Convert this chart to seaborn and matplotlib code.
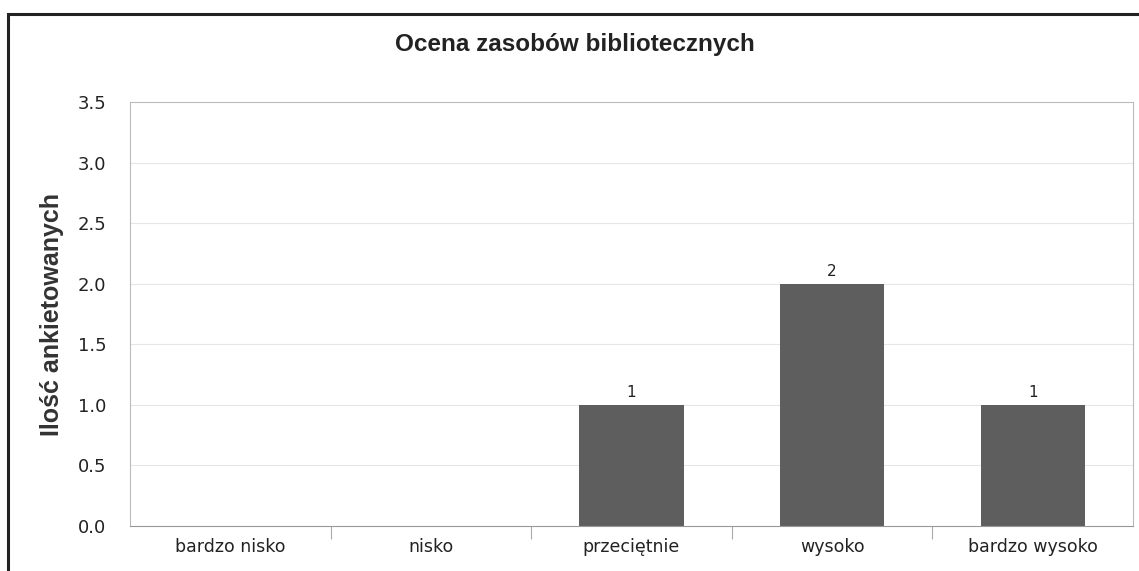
import matplotlib
matplotlib.use("Agg")
import matplotlib.pyplot as plt
import matplotlib.patches as mpatches
import seaborn as sns
import pandas as pd

categories = ["bardzo nisko", "nisko", "przeciętnie", "wysoko", "bardzo wysoko"]
values = [0, 0, 1, 2, 1]
labels = ["", "", "1", "2", "1"]
yticks = [0.0, 0.5, 1.0, 1.5, 2.0, 2.5, 3.0, 3.5]

sns.set_theme(style="white")
plt.rcParams['font.family'] = ['DejaVu Sans']

df = pd.DataFrame({"cat": categories, "val": values})

fig = plt.figure(figsize=(11.39, 5.71), dpi=100)
ax = fig.add_axes([130/1139, 1-526/571, (1133-130)/1139, (526-102)/571])

sns.barplot(data=df, x="cat", y="val", color="#5e5e5e", width=0.52,
            saturation=1, ax=ax, order=categories, linewidth=0)

ax.set_ylim(0, 3.5)
ax.set_xlim(-0.5, 4.5)
ax.set_yticks(yticks)
ax.set_yticklabels([f"{t:.1f}" for t in yticks], fontsize=13, color="#222222")
ax.set_xticklabels(categories, fontsize=12.5, color="#222222")
ax.tick_params(axis="x", which="major", length=0, pad=9)
ax.tick_params(axis="y", length=0, pad=17)
ax.set_xticks([0.5, 1.5, 2.5, 3.5], minor=True)
ax.tick_params(axis="x", which="minor", length=9, color="#aaaaaa", width=0.8, direction="out", bottom=True)

for t in yticks[1:-1]:
    ax.axhline(t, color="#e6e6e6", lw=0.8, zorder=0)

for s in ax.spines.values():
    s.set_color("#bbbbbb")
    s.set_linewidth(0.8)
ax.spines["bottom"].set_color("#999999")

ax.set_xlabel("")
ax.set_ylabel("Ilość ankietowanych", fontsize=18, fontweight="bold",
              family=["Liberation Sans", "DejaVu Sans"], color="#333333", labelpad=10)

for i, (v, l) in enumerate(zip(values, labels)):
    if l:
        ax.text(i, v + 0.04, l, ha="center", va="bottom", fontsize=11, color="#222222")

fig.text(575/1139, 1-45/571, "Ocena zasobów bibliotecznych", ha="center", va="center",
         fontsize=17.5, fontweight="bold", family=["Liberation Sans", "DejaVu Sans"], color="#222222")

border = mpatches.Rectangle((8/1139, -0.05), 1.2, 1-14/571+0.05, transform=fig.transFigure,
                            fill=False, edgecolor="#222222", linewidth=2.2, clip_on=False)
fig.patches.append(border)

fig.savefig("out.png", dpi=100, facecolor="white")
